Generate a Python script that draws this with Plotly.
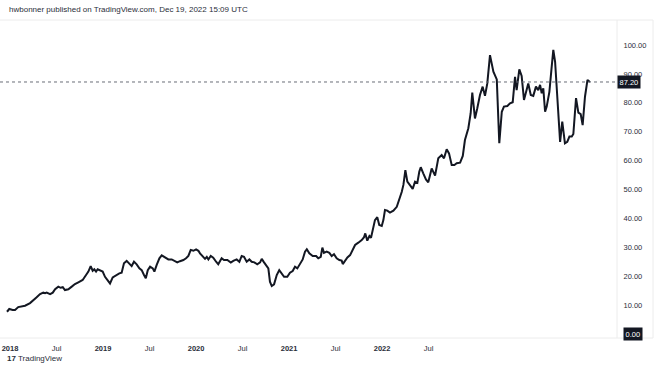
import plotly.graph_objects as go

# bar index (weekly bars, 0 = first bar of 2018) and closing values
bars = [-1.7, -0.4, 1.5, 2.8, 4.6, 6.5, 8.4, 11.2, 12.9, 14.9, 16.8, 18.6, 19.6, 20.5, 22.4, 23.9,
        25.2, 27.0, 28.3, 29.5, 30.7, 32.6, 34.5, 36.3, 38.2, 40.6, 42.5, 43.8, 45.1, 46.2, 47.1,
        48.1, 49.0, 50.3,
        51.8, 53.1, 54.4, 55.9, 57.4, 59.3, 61.1, 62.4, 63.7, 65.2, 66.7, 68.0, 69.3, 70.8, 72.3,
        73.6, 74.9, 75.9, 77.0, 78.3, 79.8, 80.7, 82.0, 83.5, 84.8, 86.6, 88.5, 90.4, 91.7, 93.5,
        95.0, 96.9, 98.4, 99.7, 101.0, 102.5, 104.0, 105.3,
        106.2, 107.7, 109.0, 110.0, 110.9, 112.2, 113.6, 115.2, 116.4, 118.3, 119.6, 121.5, 123.4,
        124.8, 126.7, 128.2, 129.5, 130.8, 132.3, 133.8, 135.1, 136.6, 138.2, 139.8, 140.7, 142.0,
        143.5, 144.4, 145.3, 146.3, 147.6, 149.1, 150.5, 151.9, 153.2, 155.0, 156.5, 158.0, 159.3,
        160.6,
        162.1, 163.6, 164.9, 165.9, 167.3, 169.2, 171.1, 172.3, 173.7, 174.6, 175.5, 177.0, 178.5,
        179.8, 181.1, 182.6, 184.1, 185.4, 186.0, 187.3, 188.6, 190.1, 191.6, 192.9, 194.7, 196.6,
        197.9, 198.6, 199.7, 200.9, 201.8, 202.8, 204.0, 205.3, 206.4, 207.8, 208.7, 209.6, 210.9,
        212.4, 214.3, 216.2, 217.6, 219.0, 219.9, 221.0, 222.1, 223.6, 225.1, 226.4, 227.7, 228.8,
        229.6, 231.0, 232.5, 233.8, 235.7, 237.6, 239.4, 241.3, 242.6, 244.1, 245.4, 246.9, 248.4,
        249.7, 251.6, 253.1, 254.3, 256.2, 257.5, 258.4, 259.9, 261.2, 262.7, 264.2, 265.5, 266.8,
        268.3, 270.2, 272.1, 273.5, 274.9, 276.1, 278.0, 279.5, 281.0, 282.3, 283.2, 284.7, 286.0,
        287.3, 288.8, 289.7, 291.1, 292.5, 294.0, 295.3, 296.3, 297.2, 298.1, 299.1, 300.0, 301.5,
        302.8, 303.7, 304.7, 306.5, 307.5, 308.7, 310.2, 311.5, 312.7, 314.0, 314.9, 316.4, 317.7,
        319.0, 320.1, 321.4, 322.8, 324.2]

values = [7.7, 8.65, 8.3, 8.3, 9.3, 9.45, 9.8, 10.7, 11.5, 12.7, 13.8, 14.3, 14.1, 14.3, 13.8, 14.3,
          15.5, 16.4, 16.0, 16.2, 15.2, 15.5, 16.4, 17.3, 17.9, 18.7, 20.4, 21.6, 23.5, 21.9, 22.4,
          21.6, 22.4, 22.1,
          21.6, 19.8, 18.7, 17.5, 19.6, 20.4, 21.0, 21.2, 24.5, 25.3, 24.5, 23.5, 25.0, 24.1, 22.7,
          22.1, 20.4, 19.3, 22.1, 23.3, 22.7, 21.6, 23.9, 26.2, 27.2, 26.5, 25.8, 25.8, 25.4, 24.8,
          25.2, 25.6, 26.2, 27.0, 29.1, 28.8, 29.3, 28.8,
          27.9, 26.7, 26.0, 26.7, 25.8, 27.0, 26.4, 25.0, 24.1, 26.2, 25.6, 25.6, 24.7,
          25.3, 25.8, 25.0, 27.0, 26.7, 25.0, 25.8, 25.0, 24.8, 24.1, 24.8, 26.0, 24.8,
          23.6, 22.7, 18.1, 16.6, 17.2, 20.4, 22.1, 21.0, 19.8, 19.8, 21.2, 21.8, 23.3,
          22.7,
          24.2, 25.8, 28.5, 29.3, 27.9, 27.0, 27.0, 26.2, 26.7, 29.9, 28.1, 28.5, 28.1,
          27.0, 27.6, 26.2, 25.6, 25.4, 24.2, 25.6, 26.5, 27.3, 29.3, 30.8, 31.6, 32.5,
          33.5, 34.8, 32.3, 33.9, 33.3, 36.0, 39.4, 40.4, 37.7, 37.4, 39.4, 42.9, 42.7,
          42.0, 42.7, 44.0, 46.4, 49.2, 51.6, 56.7, 52.7, 51.6, 50.2, 52.7, 52.3, 56.2,
          57.7, 55.6, 53.5, 52.5, 57.3, 54.8, 60.8, 61.9, 60.8, 63.9, 62.5, 58.5, 58.5,
          59.1, 59.3, 61.6, 67.1, 71.2, 76.4, 83.5, 74.6, 78.1, 82.7, 85.6, 82.4, 86.7,
          96.5, 90.8, 88.1, 66.0, 76.9, 78.7, 78.9, 79.8, 80.2, 89.0, 84.4, 91.6, 89.3,
          81.0, 84.4, 86.7, 82.7, 82.4, 85.6, 84.4, 86.2, 83.3, 85.0, 76.9, 78.7, 83.8,
          92.5, 98.3, 94.2, 77.5, 66.5, 73.5, 66.0, 66.5, 68.3, 68.3, 69.2, 81.6, 76.6,
          76.1, 72.3, 82.1, 87.9, 87.2]

tick_bars = [0, 26, 52, 78, 104, 130, 156, 182, 208, 234]
tick_text = ["<b>2018</b>", "Jul", "<b>2019</b>", "Jul", "<b>2020</b>", "Jul",
             "<b>2021</b>", "Jul", "<b>2022</b>", "Jul"]
price_ticks = [10, 20, 30, 40, 50, 60, 70, 80, 90, 100]
last_price = 87.20

FONT = "Liberation Sans, Arial, sans-serif"
TXT = "#2a2e39"

fig = go.Figure()
fig.add_trace(go.Scatter(x=bars, y=values, mode="lines",
                         line=dict(color="#131722", width=2), hoverinfo="skip"))

W, H = 660, 379
ml, mr, mt, mb = 0, 43, 20, 41
pw = W - ml - mr
ph = H - mt - mb

def px_x(p):
    return (p - ml) / pw

def px_y(p):
    return (H - mb - p) / ph

fig.update_layout(
    width=W, height=H,
    margin=dict(l=ml, r=mr, t=mt, b=mb, autoexpand=False),
    paper_bgcolor="white", plot_bgcolor="white",
    showlegend=False,
    font=dict(family=FONT, size=8, color=TXT),
    xaxis=dict(range=[-5.6, 339.3], tickvals=tick_bars, ticktext=tick_text,
               showgrid=False, zeroline=False, showline=False, automargin=False,
               ticks="outside", ticklen=3, tickcolor="rgba(0,0,0,0)",
               tickfont=dict(size=7.5, color=TXT, family=FONT), fixedrange=True),
    yaxis=dict(range=[-1.38, 108.65], side="right", tickvals=price_ticks,
               tickformat=".2f", showgrid=False, zeroline=False, showline=False,
               automargin=False,
               ticks="outside", ticklen=4, tickcolor="rgba(0,0,0,0)",
               tickfont=dict(size=7.5, color=TXT, family=FONT), fixedrange=True),
)

# last price dotted line
fig.add_shape(type="line", xref="paper", yref="y", x0=0, x1=1, y0=last_price, y1=last_price,
              line=dict(color="#6a6d78", width=1, dash="dot"))

# frame lines
fig.add_shape(type="line", xref="paper", yref="paper", x0=1, x1=1, y0=0, y1=1,
              line=dict(color="#ececec", width=1))
fig.add_shape(type="line", xref="paper", yref="paper", x0=px_x(653), x1=px_x(653),
              y0=0, y1=1, line=dict(color="#ececec", width=1))
fig.add_shape(type="line", xref="paper", yref="paper", x0=0, x1=px_x(653),
              y0=0, y1=0, line=dict(color="#ececec", width=1))
fig.add_shape(type="line", xref="paper", yref="paper", x0=0, x1=px_x(653),
              y0=1, y1=1, line=dict(color="#ececec", width=1))

# price labels
fig.add_annotation(xref="paper", yref="y", x=1.0, y=last_price, xanchor="left", yanchor="middle",
                   text=f"{last_price:.2f}", showarrow=False, bgcolor="#131722",
                   font=dict(color="white", size=7.5, family=FONT), borderpad=1.5)
fig.add_annotation(xref="paper", yref="y", x=px_x(623), y=0, xanchor="left", yanchor="middle",
                   text="0.00", showarrow=False, bgcolor="#131722",
                   font=dict(color="white", size=7.5, family=FONT), borderpad=1.5)

# header and footer
fig.add_annotation(xref="paper", yref="paper", x=px_x(7), y=px_y(9.5), xanchor="left",
                   yanchor="middle", showarrow=False,
                   text="hwbonner published on TradingView.com, Dec 19, 2022 15:09 UTC",
                   font=dict(size=8, color=TXT, family=FONT))
fig.add_annotation(xref="paper", yref="paper", x=px_x(5), y=px_y(358), xanchor="left",
                   yanchor="middle", showarrow=False,
                   text="<b>17</b> TradingView",
                   font=dict(size=8, color=TXT, family=FONT))

fig.write_html("out.html", config={"displayModeBar": False},
               post_script="document.body.style.margin='0';document.body.style.overflow='hidden';")
